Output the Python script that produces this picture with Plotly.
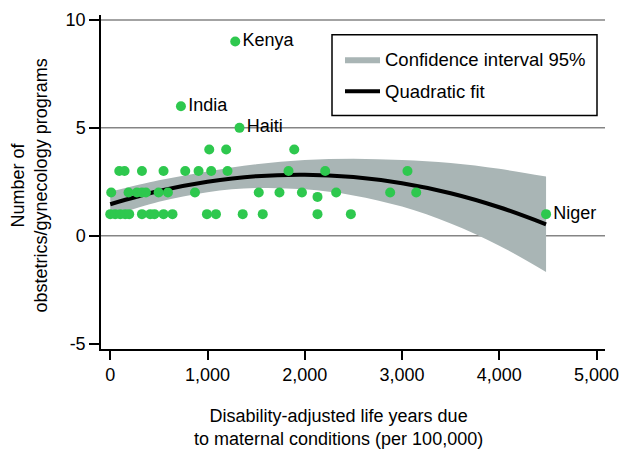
import plotly.graph_objects as go

# ---- data ----
dalys = [0, 51, 103, 154, 195, 326, 411, 455, 548, 640, 994, 1087, 1362, 1568, 2131, 2474,
         2131,
         10, 188, 274, 326, 367, 497, 593, 871, 1527, 1740, 1971, 2323, 2878, 3146,
         93, 147, 326, 548, 771, 908, 1038, 1206, 1833, 2210, 3056,
         1018, 1192, 1892,
         727, 1285, 1329, 4481]
programs = [1] * 16 + [1.8] + [2] * 14 + [3] * 11 + [4] * 3 + [6, 9, 5, 1]
labels = [""] * 45 + ["India", "Kenya", "Haiti", "Niger"]

# quadratic fit and its 95% confidence band
fit_x = [0, 500, 1000, 1500, 2000, 2500, 3000, 3500, 4000, 4481]
fit_y = [1.46, 2.07, 2.50, 2.76, 2.83, 2.72, 2.43, 1.97, 1.32, 0.53]
ci_upper = [2.04, 2.57, 2.98, 3.31, 3.51, 3.57, 3.51, 3.37, 3.10, 2.74]
ci_lower = [0.88, 1.57, 2.02, 2.21, 2.15, 1.87, 1.35, 0.57, -0.46, -1.68]

x_ticks = [0, 1000, 2000, 3000, 4000, 5000]
x_ticklabels = ["0", "1,000", "2,000", "3,000", "4,000", "5,000"]
y_ticks = [-5, 0, 5, 10]
y_ticklabels = ["-5", "0", "5", "10"]
grid_y = [0, 5, 10]

FONT = "Liberation Sans, Arial, sans-serif"

fig = go.Figure()
fig.add_trace(go.Scatter(
    x=fit_x, y=ci_lower, mode="lines", line=dict(width=0, shape="spline"),
    showlegend=False, hoverinfo="skip"))
fig.add_trace(go.Scatter(
    x=fit_x, y=ci_upper, mode="lines", line=dict(width=0, shape="spline"),
    fill="tonexty", fillcolor="#a9b5b5",
    name="Confidence interval 95%", legendgroup="a", hoverinfo="skip"))
fig.add_trace(go.Scatter(
    x=fit_x, y=fit_y, mode="lines", line=dict(color="black", width=4, shape="spline"),
    name="Quadratic fit", legendgroup="b"))
fig.add_trace(go.Scatter(
    x=dalys, y=programs, mode="markers+text", text=labels,
    textposition="middle right", textfont=dict(size=18, color="black", family=FONT),
    marker=dict(color="#2ec84e", size=10), showlegend=False))

for gy in grid_y:
    fig.add_shape(type="line", xref="paper", x0=0, x1=1, yref="y", y0=gy, y1=gy,
                  line=dict(color="#858585", width=1.5), layer="below")

# legend frame
fig.add_shape(type="rect", xref="paper", yref="paper",
              x0=(332 - 101) / 504, x1=(597 - 101) / 504,
              y0=(349 - 112) / 339, y1=(349 - 30) / 339,
              line=dict(color="black", width=1.5), fillcolor="rgba(0,0,0,0)")

fig.update_layout(
    width=631, height=454,
    margin=dict(l=101, r=26, t=10, b=105),
    paper_bgcolor="white", plot_bgcolor="white",
    font=dict(family=FONT, size=18, color="black"),
    showlegend=True,
    legend=dict(x=(340 - 101) / 504, y=(349 - 36) / 339, xanchor="left", yanchor="top",
                borderwidth=0, bgcolor="rgba(0,0,0,0)", itemwidth=35,
                font=dict(size=18.5), tracegroupgap=5, traceorder="grouped"),
    xaxis=dict(range=[-95, 5087], tickvals=x_ticks, ticktext=x_ticklabels,
               ticks="outside", ticklen=9, tickwidth=1.5, tickcolor="black",
               showline=True, linecolor="black", linewidth=1.5,
               showgrid=False, zeroline=False, tickfont=dict(size=18)),
    yaxis=dict(range=[-5.25, 10.23], tickvals=y_ticks, ticktext=y_ticklabels,
               ticks="outside", ticklen=10, tickwidth=1.5, tickcolor="black",
               showline=True, linecolor="black", linewidth=1.5,
               showgrid=False, zeroline=False, tickfont=dict(size=18)),
    annotations=[
        dict(text="Number of<br>obstetrics/gynecology programs", textangle=-90,
             xref="paper", yref="paper", x=(29 - 101) / 504, y=(349 - 183) / 339,
             xanchor="center", yanchor="middle", showarrow=False,
             font=dict(size=18)),
        dict(text="Disability-adjusted life years due<br>to maternal conditions (per 100,000)",
             xref="paper", yref="paper", x=(338 - 101) / 504, y=(349 - 429) / 339,
             xanchor="center", yanchor="middle", showarrow=False,
             font=dict(size=18)),
    ],
)

fig.write_html("out.html", config={"displayModeBar": False},
               post_script="document.body.style.margin='0';")
